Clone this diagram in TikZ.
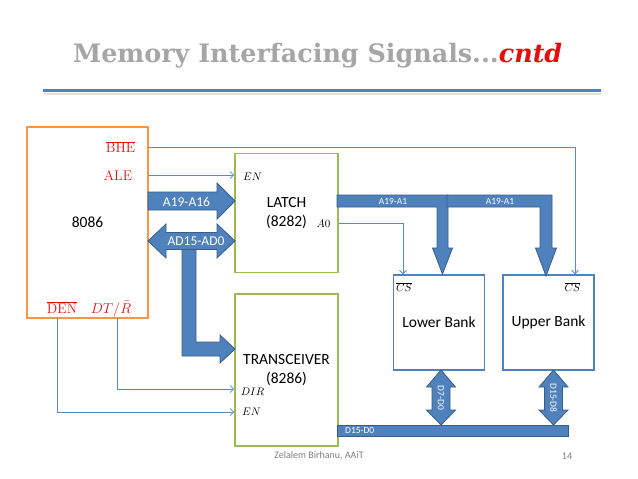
\documentclass[tikz,border=0pt]{standalone}
\usepackage{fontspec}
\usepackage{graphicx}
\newfontfamily\carlito{Carlito}
\newfontfamily\headfont{DejaVu Serif}
\usetikzlibrary{arrows.meta}

\definecolor{busfill}{RGB}{79,129,189}
\definecolor{busline}{RGB}{56,93,138}
\definecolor{conn}{RGB}{90,138,196}
\definecolor{cpuorange}{RGB}{247,150,70}
\definecolor{chipgreen}{RGB}{155,187,89}
\definecolor{sigred}{RGB}{224,16,16}
\definecolor{titlegray}{RGB}{166,166,166}
\definecolor{footgray}{RGB}{128,128,128}

\begin{document}
\begin{tikzpicture}[x=1pt,y=-1pt,
  bus/.style={fill=busfill, draw=busline, line width=0.8pt, line join=miter},
  sig/.style={draw=conn, line width=0.8pt, -{Straight Barb[length=3.5pt,width=7pt]}},
  wire/.style={draw=conn, line width=0.8pt},
  chip/.style={draw, line width=1.6pt, inner sep=0pt,
    font=\carlito\fontsize{15.5}{19}\selectfont, align=center},
  bank/.style={draw=busfill, line width=1.3pt, inner sep=0pt,
    minimum width=91pt, minimum height=95pt,
    font=\carlito\fontsize{15.5}{19}\selectfont},
  buslabel/.style={text=white, font=\carlito\fontsize{13.5}{15}\selectfont, inner sep=0pt},
  smallbus/.style={text=white, font=\carlito\fontsize{9.5}{11}\selectfont, inner sep=0pt},
  pinlabel/.style={font=\fontsize{10.5}{12}\selectfont, inner sep=0pt},
  redpin/.style={text=sigred, font=\fontsize{14}{16}\selectfont, inner sep=0pt, anchor=base},
]
\useasboundingbox (0,0) rectangle (638,479);
\fill[white] (0,0) rectangle (638,479);

% heading and rule
\node[anchor=base west, inner sep=0pt] (title) at (73,62)
  {\resizebox{489pt}{!}{\headfont\bfseries\textcolor{titlegray}{Memory Interfacing Signals...}\textcolor{sigred}{\itshape cntd}}};
\draw[line width=2pt, black!12] (44,93.5) -- (601,93.5);
\draw[line width=3pt, busfill] (43,90.5) -- (601,90.5);

% chips
\node[chip, draw=cpuorange, minimum width=121pt, minimum height=191pt] (cpu) at (87.5,222.5) {8086};
\node[chip, draw=chipgreen, minimum width=103pt, minimum height=119pt] (latch) at (286.5,213) {LATCH\\(8282)};
\node[chip, draw=chipgreen, minimum width=103pt, minimum height=152pt] (trans) at (286.5,370) {TRANSCEIVER\\(8286)};
\node[bank] (lower) at (439,322.5) {Lower Bank};
\node[bank] (upper) at (548.5,322.5) {Upper Bank};

% 8086 control pins
\node[redpin] (bhe) at (120.5,152.7) {$\overline{\mathrm{BHE}}$};
\node[redpin] (ale) at (118,180.7) {$\mathrm{ALE}$};
\node[redpin] (den) at (62,313) {$\overline{\mathrm{DEN}}$};
\node[redpin] (dtr) at (111,313) {$DT/\bar{R}$};

% chip pin names
\node[pinlabel] (len) at (252.5,177) {$EN$};
\node[pinlabel] (a0) at (323.5,224) {$A0$};
\node[pinlabel] (dir) at (252.5,392) {$DIR$};
\node[pinlabel] (ten) at (251.5,412) {$EN$};
\node[pinlabel] (lcs) at (404,287) {$\overline{CS}$};
\node[pinlabel] (ucs) at (572.5,287) {$\overline{CS}$};

% pin exits on the 8086 outline
\coordinate (bheout) at (148,147);
\coordinate (aleout) at (148,175);
\coordinate (dtrout) at (117,318);
\coordinate (denout) at (57,318);

% single control lines
\draw[sig] (bheout) -| ([xshift=26.5pt]upper.north);
\draw[sig] (aleout) -- (latch.west |- aleout);
\draw[sig] (latch.east |- 0,223.3) -| ([xshift=-36pt]lower.north);
\draw[sig] (dtrout) |- ([yshift=-19pt]trans.west);
\draw[sig] (denout) |- ([yshift=-42pt]trans.west);

% address bus A19-A16
\draw[bus] (148,192) -- (217,192) -- (217,183) -- (235,201) -- (217,219) -- (217,210) -- (148,210) -- cycle;
\node[buslabel] (a1916) at (186.5,201.5) {A19-A16};

% multiplexed bus into the transceiver
\draw[bus] (196,249) -- (196,342) -- (220,342) -- (220,335) -- (235,349) -- (220,363) -- (220,356) -- (182,356) -- (182,249);
% multiplexed bus AD15-AD0
\draw[bus] (148,241) -- (166,224) -- (166,232.5) -- (217,232.5) -- (217,224) -- (235,241)
  -- (217,258) -- (217,249.5) -- (166,249.5) -- (166,258) -- cycle;
\node[buslabel] (ad) at (196,241.5) {AD15-AD0};

% latched address A19-A1 to both banks
\draw[bus] (337,195) -- (448,195) -- (448,248) -- (452.5,248) -- (442.5,274) -- (432.5,248) -- (437,248) -- (437,207) -- (337,207) -- cycle;
\draw[bus] (447,195) -- (552,195) -- (552,248) -- (556.5,248) -- (546,276) -- (535.5,248) -- (540,248) -- (540,207) -- (447,207) -- cycle;
\node[smallbus] at (393,201) {A19-A1};
\node[smallbus] at (500,201) {A19-A1};

% data bus
\draw[bus] (337,425) rectangle (568,436);
\node[smallbus, anchor=west] at (345,430.5) {D15-D0};
\draw[bus] (441,370) -- (455.5,387) -- (450,387) -- (450,410) -- (455.5,410) -- (441,425)
  -- (426.5,410) -- (432,410) -- (432,387) -- (426.5,387) -- cycle;
\node[smallbus, rotate=-90] at (441,398) {D7-D0};
\draw[bus] (553.5,370) -- (568,387) -- (562.5,387) -- (562.5,410) -- (568,410) -- (553.5,425)
  -- (539,410) -- (544.5,410) -- (544.5,387) -- (539,387) -- cycle;
\node[smallbus, rotate=-90] at (553.5,398) {D15-D8};

% footer
\node[text=footgray, font=\carlito\fontsize{10}{12}\selectfont] (author) at (319,456) {Zelalem Birhanu, AAiT};
\node[text=footgray, font=\carlito\fontsize{10}{12}\selectfont] (page) at (567,456) {14};
\end{tikzpicture}
\end{document}
